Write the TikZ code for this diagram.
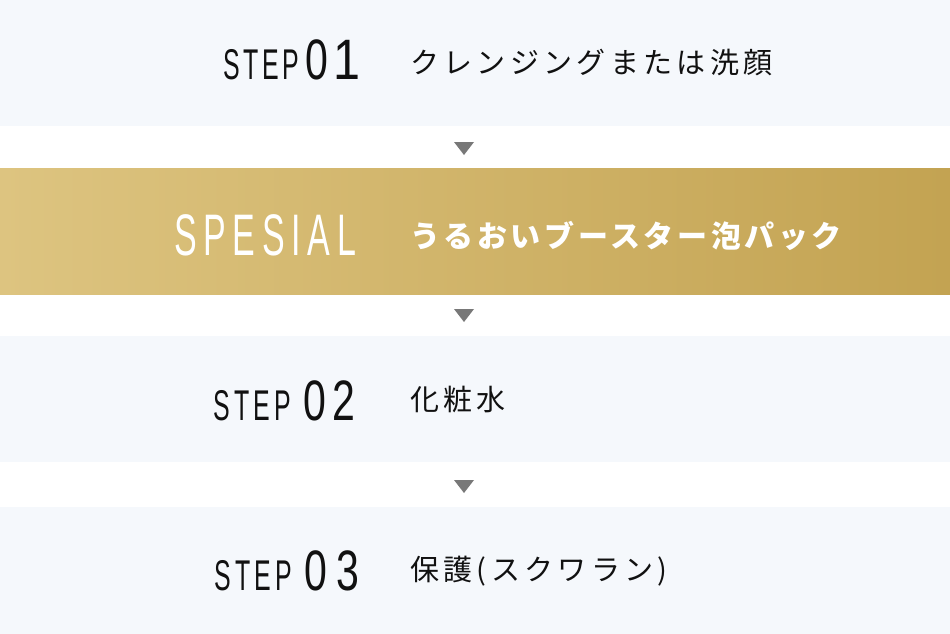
\documentclass[tikz,border=0pt]{standalone}
\usepackage{fontspec}
\usepackage{graphicx}
\setmainfont{Liberation Sans}
\newfontfamily\jp[LetterSpace=15]{Noto Sans CJK JP}
\newfontfamily\jpb[LetterSpace=12]{Noto Sans CJK JP}
\newfontfamily\cond{Liberation Sans}
\definecolor{bandbg}{RGB}{245,248,252}
\definecolor{goldL}{RGB}{221,196,128}
\definecolor{goldR}{RGB}{195,163,82}
\definecolor{tri}{RGB}{120,120,120}
\definecolor{ink}{RGB}{17,17,17}
\newcommand{\cl}[1]{\scalebox{0.58}[1]{#1}}
\newcommand{\dg}[1]{\scalebox{0.72}[1]{#1}}
% #1 = gap between letters
\newcommand{\stepword}[1]{\cond\fontsize{43}{43}\selectfont\cl{S}\hspace{#1}\cl{T}\hspace{#1}\cl{E}\hspace{#1}\cl{P}}
\begin{document}
\begin{tikzpicture}[x=1pt,y=-1pt,
  band/.style={fill=bandbg},
  lbl/.style={anchor=base west,inner sep=0pt,text=ink},
  num/.style={anchor=base west,inner sep=0pt,text=ink,font=\cond\fontsize{57}{57}\selectfont},
  jtxt/.style={anchor=base west,inner sep=0pt,text=ink,font=\jp\fontsize{29}{29}\selectfont},
  arrowtri/.style={fill=tri}]
\useasboundingbox (0,0) rectangle (950,634);
\fill[white] (0,0) rectangle (950,634);
% bands
\fill[band] (0,0) rectangle (950,126);
\shade[left color=goldL,right color=goldR] (0,168) rectangle (950,294);
\fill[band] (0,336) rectangle (950,462);
\fill[band] (0,507) rectangle (950,634);
% arrows
\coordinate (t1) at (464,155);
\coordinate (t2) at (464,322);
\coordinate (t3) at (464,493);
\fill[arrowtri] (t1) -- ++(-10,-13) -- ++(20,0) -- cycle;
\fill[arrowtri] (t2) -- ++(-10,-13) -- ++(20,0) -- cycle;
\fill[arrowtri] (t3) -- ++(-10,-13) -- ++(20,0) -- cycle;
% row 1
\node[lbl] (s1) at (223,80) {\stepword{3.5pt}};
\node[num] (d1) at (305.3,80) {\dg{0}\hspace{5.4pt}\scalebox{0.85}[1]{1}};
\node[jtxt] (j1) at (410,74) {クレンジングまたは洗顔};
% special row
\node[lbl,text=white] (s0) at (174,255) {\cond\fontsize{58.6}{58.6}\selectfont
  \cl{S}\hspace{6.7pt}\cl{P}\hspace{6.7pt}\cl{E}\hspace{6.7pt}\cl{S}\hspace{6.7pt}\cl{I}\hspace{6.7pt}\cl{A}\hspace{6.7pt}\cl{L}};
\node[jtxt,text=white,font=\jpb\bfseries\fontsize{30}{30}\selectfont] (j0) at (410,247) {うるおいブースター泡パック};
% row 2
\node[lbl] (s2) at (213,420) {\stepword{4.4pt}};
\node[num] (d2) at (303.3,420) {\dg{0}\hspace{5.9pt}\dg{2}};
\node[jtxt] (j2) at (410,410) {化粧水};
% row 3
\node[lbl] (s3) at (214,590) {\stepword{4.4pt}};
\node[num] (d3) at (304.3,590) {\dg{0}\hspace{9.6pt}\dg{3}};
\node[jtxt] (j3) at (410,580) {保護(スクワラン)};
\end{tikzpicture}
\end{document}
